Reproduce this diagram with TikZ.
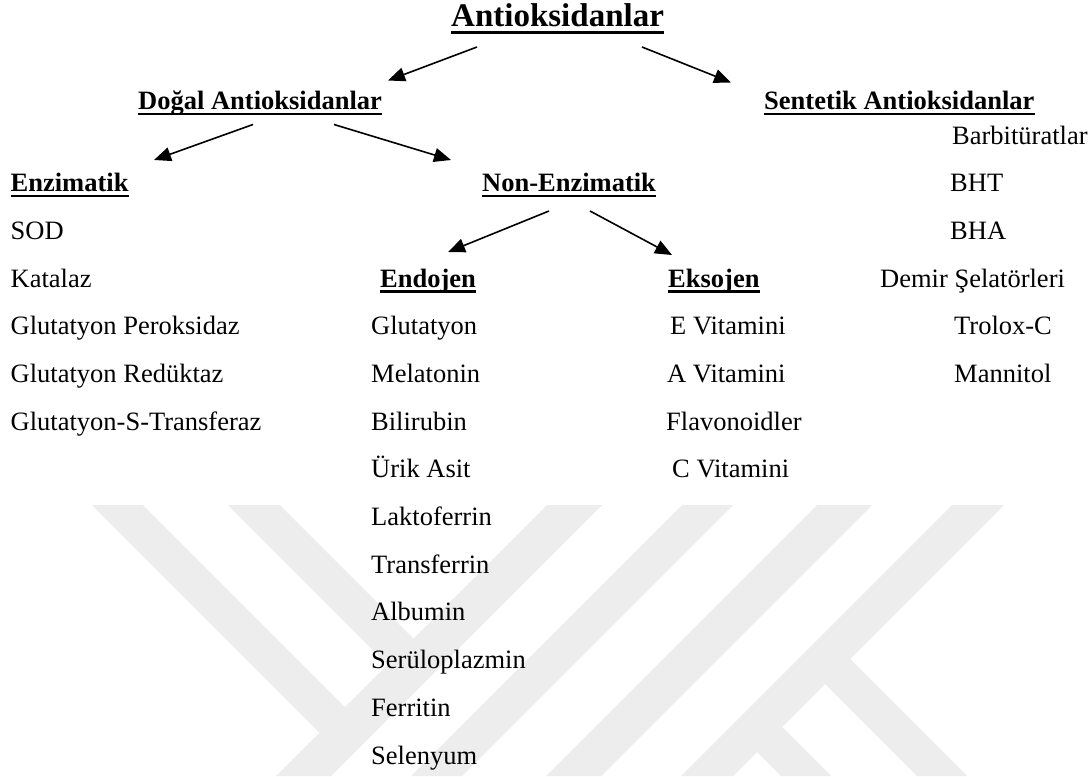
\documentclass[tikz,border=0pt]{standalone}
\usepackage{fontspec}
\setmainfont{Liberation Serif}
\usetikzlibrary{arrows.meta}
\definecolor{wm}{RGB}{237,237,237}
\begin{document}
\begin{tikzpicture}[x=1pt,y=-1pt,
  lbl/.style={anchor=base west,inner sep=0pt,font=\fontsize{26.5}{30}\selectfont},
  head/.style={anchor=base west,inner sep=0pt,font=\fontsize{26.5}{30}\selectfont\bfseries},
  ttl/.style={anchor=base west,inner sep=0pt,font=\fontsize{33}{38}\selectfont\bfseries},
  arr/.style={line width=1.6pt,-{Triangle[length=17pt,width=14pt]}},
  ul/.style={line width=2.4pt},
  ulbig/.style={line width=3pt},
]
\useasboundingbox (0,0) rectangle (1091,776);
\fill[white] (0,0) rectangle (1091,776);
% watermark
\fill[wm] (92,505) -- (143,505) -- (354,716) -- (328.5,741.5) -- cycle;
\fill[wm] (228,505) -- (280,505) -- (422.5,647.5) -- (396.5,673.5) -- cycle;
\fill[wm] (547,505) -- (602,505) -- (331,776) -- (276,776) -- cycle;
\fill[wm] (682,505) -- (733,505) -- (462,776) -- (411,776) -- cycle;
\fill[wm] (817,505) -- (872,505) -- (601,776) -- (546,776) -- cycle;
\fill[wm] (952,505) -- (1004,505) -- (733,776) -- (681,776) -- cycle;
\fill[wm] (815.5,674.5) -- (840.5,649.5) -- (967,776) -- (917,776) -- cycle;
\fill[wm] (747.5,742.5) -- (772.5,717.5) -- (831,776) -- (781,776) -- cycle;

% headings
\node[ttl] (t) at (451,27) {Antioksidanlar};
\node[head] (d) at (138,109.5) {Doğal Antioksidanlar\hspace{0.25em}};
\node[head] (s) at (764,109.5) {Sentetik Antioksidanlar};
\node[head] (e) at (10.5,191.6) {Enzimatik};
\node[head] (n) at (482,191.6) {Non-Enzimatik};
\node[head] (en) at (380,287) {Endojen};
\node[head] (ek) at (668,287) {Eksojen};

\foreach \nm in {d,s,e,n,en,ek}
  \draw[ul] ([yshift=-4.5pt]\nm.base west) -- ([yshift=-4.5pt]\nm.base east);
\draw[ulbig] ([yshift=-6pt]t.base west) -- ([yshift=-6pt]t.base east);

% Enzimatik list
\node[lbl] (e1) at (10.5,239.3) {SOD};
\node[lbl] (e2) at (10.5,287) {Katalaz};
\node[lbl] (e3) at (10.5,334.7) {Glutatyon Peroksidaz};
\node[lbl] (e4) at (10.5,382.4) {Glutatyon Redüktaz};
\node[lbl] (e5) at (10.5,430) {Glutatyon-S-Transferaz};

% Endojen list
\node[lbl] (n1) at (371,334.7) {Glutatyon};
\node[lbl] (n2) at (371,382.4) {Melatonin};
\node[lbl] (n3) at (371,430) {Bilirubin};
\node[lbl] (n4) at (371,477.8) {Ürik Asit};
\node[lbl] (n5) at (371,525.5) {Laktoferrin};
\node[lbl] (n6) at (371,573.2) {Transferrin};
\node[lbl] (n7) at (371,620.9) {Albumin};
\node[lbl] (n8) at (371,668.6) {Serüloplazmin};
\node[lbl] (n9) at (371,716.3) {Ferritin};
\node[lbl] (n10) at (371,764) {Selenyum};

% Eksojen list
\node[lbl] (k1) at (670,334.7) {E Vitamini};
\node[lbl] (k2) at (667,382.4) {A Vitamini};
\node[lbl] (k3) at (666,430) {Flavonoidler};
\node[lbl] (k4) at (672,477.8) {C Vitamini};

% Sentetik list
\node[lbl] (s1) at (952,144) {Barbitüratlar};
\node[lbl] (s2) at (950,191.6) {BHT};
\node[lbl] (s3) at (950,239.3) {BHA};
\node[lbl] (s4) at (880,287) {Demir Şelatörleri};
\node[lbl] (s5) at (954,334.7) {Trolox-C};
\node[lbl] (s6) at (954,382.4) {Mannitol};

% arrows
\draw[arr] ([shift={(26,20)}]t.base west) -- ([shift={(250,-29)}]d.base west);
\draw[arr] ([shift={(191,20)}]t.base west) -- ([shift={(-33,-27)}]s.base west);
\draw[arr] ([shift={(115,15)}]d.base west) -- ([shift={(143.5,-31.6)}]e.base west);
\draw[arr] ([shift={(196,15)}]d.base west) -- ([shift={(-31,-31.6)}]n.base west);
\draw[arr] ([shift={(67,19.4)}]n.base west) -- ([shift={(68,-35)}]en.base west);
\draw[arr] ([shift={(108,19.4)}]n.base west) -- ([shift={(4,-32)}]ek.base west);
\end{tikzpicture}
\end{document}
